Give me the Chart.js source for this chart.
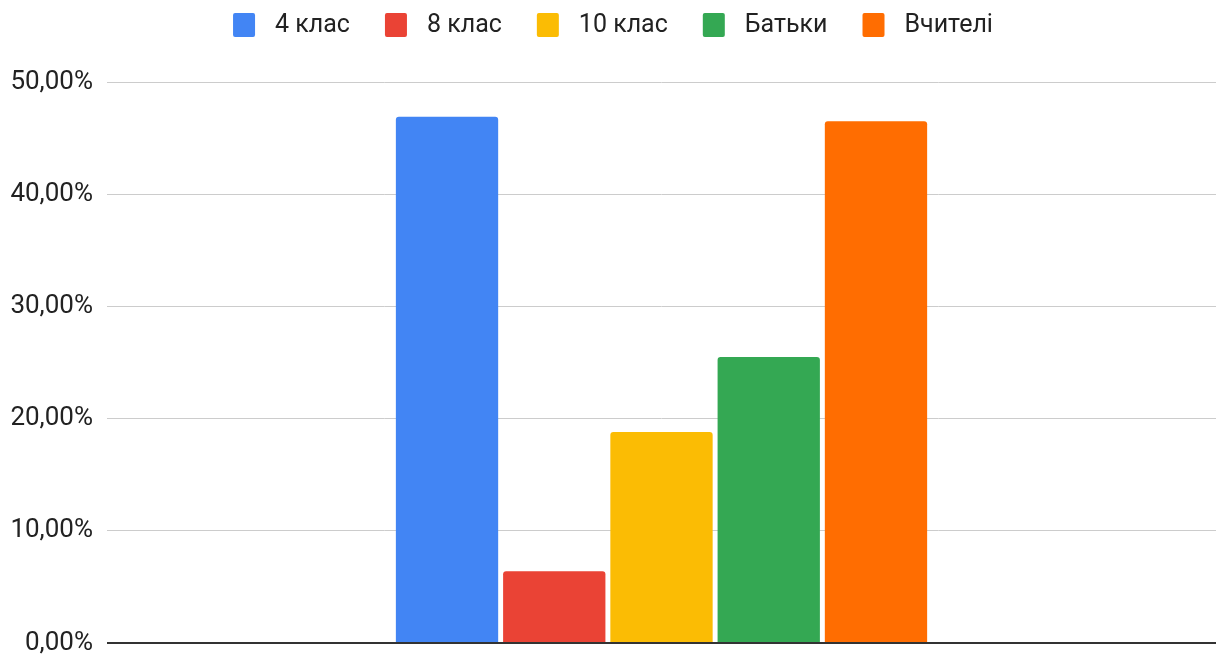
<!DOCTYPE html>
<html>
<head>
<meta charset="utf-8">
<script src="https://cdn.jsdelivr.net/npm/chart.js@4"></script>
<style>
  html, body { margin: 0; padding: 0; background: #fff; }
  #wrap { width: 1216px; height: 655px; position: relative; }
</style>
</head>
<body>
<div id="wrap"><canvas id="myChart"></canvas></div>
<script>
// chart data
const categories = [""];
const seriesNames = ["4 клас", "8 клас", "10 клас", "Батьки", "Вчителі"];
const seriesValues = [[46.9], [6.4], [18.8], [25.5], [46.5]];
const seriesColors = ["#4285f4", "#ea4335", "#fbbc04", "#34a853", "#ff6d01"];
const yTicks = [0, 10, 20, 30, 40, 50];

const FONT = "Roboto, 'Liberation Sans', Arial, sans-serif";

// draws the legend at the top, google sheets style
const topLegend = {
  id: "topLegend",
  afterDraw(chart) {
    const ctx = chart.ctx;
    const boxW = 22, boxH = 24, gap = 20, spacing = 35;
    ctx.save();
    ctx.font = "25px " + FONT;
    let widths = chart.data.datasets.map(ds => ctx.measureText(ds.label).width);
    let total = widths.reduce((a, w) => a + boxW + gap + w, 0) + spacing * (widths.length - 1);
    let x = 613 - total / 2;
    const cy = 25;
    chart.data.datasets.forEach((ds, i) => {
      ctx.fillStyle = ds.backgroundColor;
      ctx.beginPath();
      ctx.roundRect(x, cy - boxH / 2, boxW, boxH, 2);
      ctx.fill();
      ctx.fillStyle = "#222";
      ctx.textAlign = "left";
      ctx.textBaseline = "middle";
      ctx.fillText(ds.label, x + boxW + gap, cy + 1);
      x += boxW + gap + widths[i] + spacing;
    });
    ctx.restore();
  }
};

let ctx = document.getElementById("myChart").getContext("2d");

let myChart = new Chart(ctx, {
  type: "bar",
  data: {
    labels: categories,
    datasets: seriesNames.map((name, i) => ({
      label: name,
      data: seriesValues[i],
      backgroundColor: seriesColors[i],
      borderRadius: 3,
      borderSkipped: "bottom",
      categoryPercentage: 0.4835,
      barPercentage: 0.954,
    })),
  },
  options: {
    responsive: true,
    maintainAspectRatio: false,
    animation: false,
    layout: {
      padding: { top: 82, right: 0, bottom: 12, left: 0 },
    },
    plugins: {
      legend: { display: false },
      tooltip: { enabled: false },
    },
    scales: {
      x: {
        display: false,
        grid: { display: false },
      },
      y: {
        min: 0,
        max: 50,
        afterBuildTicks: (axis) => {
          axis.ticks = yTicks.map(v => ({ value: v }));
        },
        afterFit: (axis) => {
          axis.width = 107;
          axis.paddingTop = 0;
          axis.paddingBottom = 0;
        },
        border: { display: false },
        grid: {
          drawTicks: false,
          color: (c) => (c.tick && c.tick.value === 0 ? "#333333" : "#cccccc"),
          lineWidth: (c) => (c.tick && c.tick.value === 0 ? 2 : 1),
        },
        ticks: {
          padding: 14,
          color: "#222",
          font: { family: FONT, size: 26 },
          callback: (v) => v.toFixed(2).replace(".", ",") + "%",
        },
      },
    },
  },
  plugins: [topLegend],
});
</script>
</body>
</html>
